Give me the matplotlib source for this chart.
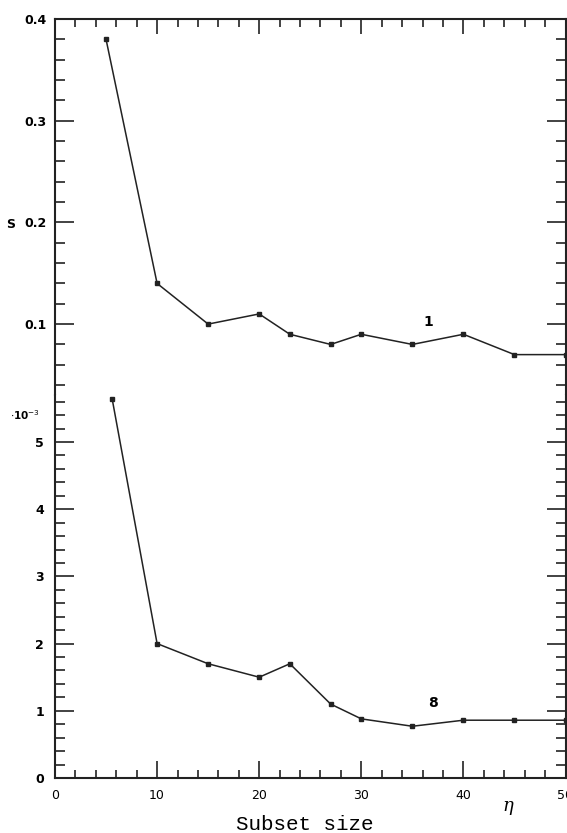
import numpy as np
import matplotlib
matplotlib.use("Agg")
import matplotlib.pyplot as plt
from matplotlib.ticker import FixedLocator, MultipleLocator

# curve 1 (upper scale, S)
x_top = [5, 10, 15, 20, 23, 27, 30, 35, 40, 45, 50]
s_top = [0.38, 0.14, 0.10, 0.11, 0.09, 0.08, 0.09, 0.08, 0.09, 0.07, 0.07]

# curve 8 (lower scale, S x 10^-3)
x_bot = [5.6, 10, 15, 20, 23, 27, 30, 35, 40, 45, 50]
s_bot = [5.64, 2.0, 1.7, 1.5, 1.7, 1.1, 0.88, 0.77, 0.86, 0.86, 0.86]

top_ticks = [0.1, 0.2, 0.3, 0.4]
bot_ticks = [0, 1, 2, 3, 4, 5]
x_ticks = [0, 10, 20, 30, 40, 50]

W, H = 567, 833
fig = plt.figure(figsize=(W / 100, H / 100), dpi=100)

left = 55 / W
right = 565.5 / W
y_top = 1 - 19 / H
y_mid = 1 - 395 / H
y_bot = 1 - 778 / H

ax_top = fig.add_axes([left, y_mid, right - left, y_top - y_mid])
ax_bot = fig.add_axes([left, y_bot, right - left, y_mid - y_bot])

line_kw = dict(color="#222222", lw=1.1, marker="s", ms=3.5, clip_on=False)
ax_top.plot(x_top, s_top, **line_kw)
ax_bot.plot(x_bot, s_bot, **line_kw)

ax_top.set_xlim(0, 50)
ax_bot.set_xlim(0, 50)
ax_top.set_ylim(0.4 - 376 / 1017, 0.4)
ax_bot.set_ylim(0, 383 / 67.2)

for ax in (ax_top, ax_bot):
    for sp in ax.spines.values():
        sp.set_linewidth(1.5)
        sp.set_color("#222222")
    ax.xaxis.set_major_locator(MultipleLocator(10))
    ax.xaxis.set_minor_locator(MultipleLocator(2))
    ax.tick_params(which="both", direction="in", color="#222222",
                   left=True, right=True, width=1.2)
    ax.tick_params(which="major", length=14)
    ax.tick_params(which="minor", length=7)

ax_top.spines["bottom"].set_visible(False)
ax_bot.spines["top"].set_visible(False)
ax_top.tick_params(axis="x", which="both", bottom=False, top=True,
                   labelbottom=False)
ax_top.tick_params(axis="x", which="major", length=11)
ax_top.tick_params(axis="x", which="minor", length=6)
ax_bot.tick_params(axis="x", which="both", top=False, bottom=True)
ax_bot.tick_params(axis="x", which="major", length=12)
ax_bot.tick_params(axis="x", which="minor", length=6)

ax_top.yaxis.set_major_locator(FixedLocator(top_ticks))
ax_top.yaxis.set_minor_locator(MultipleLocator(0.02))
ax_top.set_yticklabels([f"{t:.1f}" for t in top_ticks],
                       fontsize=9, fontweight="bold")
ax_bot.yaxis.set_major_locator(FixedLocator(bot_ticks))
ax_bot.yaxis.set_minor_locator(MultipleLocator(0.2))
ax_bot.set_yticklabels([str(t) for t in bot_ticks],
                       fontsize=9, fontweight="bold")
ax_bot.set_xticks(x_ticks)
ax_bot.set_xticklabels([str(t) for t in x_ticks], fontsize=9)
ax_top.tick_params(axis="y", pad=6)
ax_bot.tick_params(axis="y", pad=8)
ax_bot.tick_params(axis="x", pad=8)

# curve labels
ax_top.text(36.6, 0.102, "1", fontsize=10, fontweight="bold",
            ha="center", va="center")
ax_bot.text(37.0, 1.12, "8", fontsize=10, fontweight="bold",
            ha="center", va="center")

fig.text(11 / W, 1 - 224 / H, "S", fontsize=9, fontweight="bold",
         ha="center", va="center")
fig.text(40 / W, 1 - 415 / H, r"$\cdot$10$^{-3}$", fontsize=7.5,
         fontweight="bold", ha="right", va="center")
fig.text(508 / W, 1 - 806 / H, "η", fontsize=13, style="italic",
         family="DejaVu Serif", ha="center", va="center")
fig.text(305 / W, 1 - 825 / H, "Subset size", fontsize=15,
         family="Liberation Mono", ha="center", va="center")

fig.savefig("out.png", dpi=100)
